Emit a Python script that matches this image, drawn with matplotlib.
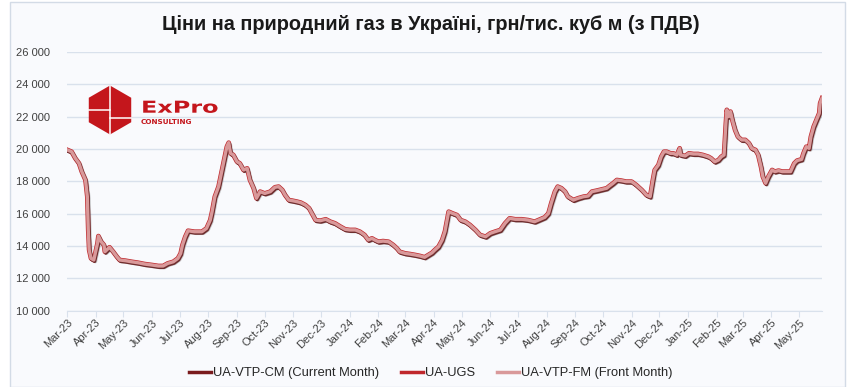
import numpy as np
import pandas as pd
import matplotlib
matplotlib.use('Agg')
import matplotlib.pyplot as plt
import matplotlib.dates as mdates
import matplotlib.patheffects as pe
from matplotlib.patches import RegularPolygon, Rectangle, PathPatch
from matplotlib.textpath import TextPath
from matplotlib.font_manager import FontProperties
from matplotlib.transforms import IdentityTransform, Affine2D
from matplotlib.ticker import FuncFormatter

plt.rcParams['font.family'] = ['Liberation Sans', 'DejaVu Sans']

title = 'Ціни на природний газ в Україні, грн/тис. куб м (з ПДВ)'
names = ['UA-VTP-CM (Current Month)', 'UA-UGS', 'UA-VTP-FM (Front Month)']
colors = ['#7a1b1d', '#c0282d', '#d9999a']

# values (the three traces overlap almost exactly)
dates = ['2023-03-01', '2023-03-06', '2023-03-10', '2023-03-14', '2023-03-17', '2023-03-21',
         '2023-03-23', '2023-03-24', '2023-03-25', '2023-03-27', '2023-03-30', '2023-04-01',
         '2023-04-03', '2023-04-04', '2023-04-07', '2023-04-10', '2023-04-11', '2023-04-13',
         '2023-04-16', '2023-04-20', '2023-04-24', '2023-04-27', '2023-05-03', '2023-05-10',
         '2023-05-17', '2023-05-24', '2023-06-01', '2023-06-08', '2023-06-13', '2023-06-18',
         '2023-06-24', '2023-06-29', '2023-07-02', '2023-07-04', '2023-07-07', '2023-07-10',
         '2023-07-17', '2023-07-25', '2023-07-30', '2023-08-03', '2023-08-05', '2023-08-08',
         '2023-08-12', '2023-08-15', '2023-08-18', '2023-08-21', '2023-08-23', '2023-08-25',
         '2023-08-28', '2023-09-01', '2023-09-04', '2023-09-08', '2023-09-12', '2023-09-15',
         '2023-09-19', '2023-09-22', '2023-09-26', '2023-10-01', '2023-10-07', '2023-10-12',
         '2023-10-16', '2023-10-20', '2023-10-23', '2023-10-27', '2023-10-31', '2023-11-05',
         '2023-11-09', '2023-11-14', '2023-11-18', '2023-11-21', '2023-11-25', '2023-11-30',
         '2023-12-06', '2023-12-11', '2023-12-16', '2023-12-22', '2023-12-27', '2024-01-01',
         '2024-01-07', '2024-01-12', '2024-01-17', '2024-01-21', '2024-01-25', '2024-01-28',
         '2024-02-01', '2024-02-06', '2024-02-12', '2024-02-17', '2024-02-21', '2024-02-24',
         '2024-03-01', '2024-03-06', '2024-03-12', '2024-03-17', '2024-03-22', '2024-03-26',
         '2024-03-30', '2024-04-02', '2024-04-06', '2024-04-10', '2024-04-13', '2024-04-17',
         '2024-04-21', '2024-04-26', '2024-04-30', '2024-05-05', '2024-05-10', '2024-05-16',
         '2024-05-21', '2024-05-27', '2024-06-01', '2024-06-06', '2024-06-12', '2024-06-17',
         '2024-06-22', '2024-06-28', '2024-07-05', '2024-07-12', '2024-07-19', '2024-07-25',
         '2024-07-30', '2024-08-03', '2024-08-06', '2024-08-10', '2024-08-13', '2024-08-17',
         '2024-08-21', '2024-08-24', '2024-08-30', '2024-09-04', '2024-09-10', '2024-09-15',
         '2024-09-19', '2024-09-24', '2024-09-30', '2024-10-05', '2024-10-08', '2024-10-12',
         '2024-10-16', '2024-10-21', '2024-10-26', '2024-11-01', '2024-11-06', '2024-11-12',
         '2024-11-17', '2024-11-21', '2024-11-24', '2024-11-26', '2024-11-30', '2024-12-03',
         '2024-12-06', '2024-12-09', '2024-12-13', '2024-12-16', '2024-12-20', '2024-12-23',
         '2024-12-24', '2024-12-29', '2025-01-02', '2025-01-07', '2025-01-12', '2025-01-17',
         '2025-01-23', '2025-01-26', '2025-01-30', '2025-02-03', '2025-02-06', '2025-02-09',
         '2025-02-11', '2025-02-12', '2025-02-14', '2025-02-16', '2025-02-18', '2025-02-21',
         '2025-02-24', '2025-02-28', '2025-03-04', '2025-03-08', '2025-03-11', '2025-03-15',
         '2025-03-18', '2025-03-21', '2025-03-23', '2025-03-26', '2025-03-29', '2025-04-02',
         '2025-04-05', '2025-04-09', '2025-04-13', '2025-04-18', '2025-04-22', '2025-04-26',
         '2025-04-29', '2025-05-04', '2025-05-06', '2025-05-09', '2025-05-12', '2025-05-14',
         '2025-05-17', '2025-05-20', '2025-05-23', '2025-05-24', '2025-05-26']

cm_values = [19950, 19830, 19420, 19110, 18600, 18080,
             17050, 15000, 13750, 13230, 13130, 13640,
             14160, 14610, 14260, 14060, 13640, 13750,
             13920, 13640, 13330, 13130, 13090, 13020,
             12960, 12880, 12820, 12760, 12760, 12920,
             13020, 13230, 13540, 14060, 14570, 14940,
             14880, 14880, 15090, 15600, 16120, 17050,
             17670, 18500, 19320, 20140, 20390, 19730,
             19630, 19210, 19110, 18700, 18800, 18080,
             17570, 16950, 17360, 17250, 17360, 17630,
             17670, 17460, 17150, 16840, 16800, 16740,
             16680, 16530, 16330, 16020, 15600, 15560,
             15650, 15500, 15400, 15190, 15030, 14990,
             14990, 14880, 14680, 14370, 14470, 14370,
             14260, 14300, 14260, 14060, 13850, 13640,
             13540, 13500, 13440, 13380, 13300, 13440,
             13580, 13750, 13950, 14370, 14900, 16120,
             16020, 15910, 15600, 15500, 15300, 14990,
             14680, 14570, 14780, 14880, 14990, 15400,
             15710, 15650, 15650, 15600, 15500, 15650,
             15770, 16020, 16640, 17360, 17670, 17570,
             17360, 17050, 16840, 16950, 17050, 17090,
             17360, 17420, 17500, 17570, 17710, 17880,
             18080, 18040, 17980, 17980, 17770, 17460,
             17150, 17050, 18080, 18700, 19010, 19520,
             19830, 19830, 19730, 19730, 19630, 20040,
             19630, 19570, 19730, 19690, 19690, 19630,
             19520, 19420, 19210, 19320, 19520, 19630,
             21600, 22420, 22000, 22310, 21790, 21170,
             20760, 20560, 20560, 20350, 20040, 19940,
             19630, 18900, 18290, 17880, 18290, 18700,
             18600, 18660, 18600, 18600, 18600, 19110,
             19280, 19360, 19730, 20140, 20040, 20760,
             21380, 21790, 22210, 22830, 23140]
ugs_values = list(cm_values)
fm_values = list(cm_values)

yticks = [10000, 12000, 14000, 16000, 18000, 20000, 22000, 24000, 26000]

x = pd.to_datetime(dates)
H = 387

fig = plt.figure(figsize=(8.62, 3.87), dpi=100)
fig.patch.set_facecolor('white')
fig.patches.append(Rectangle((10/862, 0), 835/862, 1 - 2/H, transform=fig.transFigure,
                             facecolor='#f9fafd', edgecolor='#d3dbe6', lw=1, zorder=-10))

ax = fig.add_axes([67/862, 1 - 310.6/H, (822 - 67)/862, (310.6 - 52)/H])
ax.set_facecolor('none')

ax.plot(x, ugs_values, color=colors[1], lw=3.4, solid_joinstyle='round', zorder=3)
ax.plot(x, cm_values, color=colors[0], lw=2.6, solid_joinstyle='round', zorder=3,
        path_effects=[pe.Stroke(offset=(0.6, -1.0), linewidth=2.4, foreground=colors[0])])
ax.plot(x, fm_values, color=colors[2], lw=2.4, solid_joinstyle='round', zorder=4,
        path_effects=[pe.SimpleLineShadow(offset=(1.2, -1.2), shadow_color='#555555', alpha=0.3),
                      pe.Normal()])

ax.set_ylim(10000, 26000)
ax.set_yticks(yticks)
ax.yaxis.set_major_formatter(FuncFormatter(lambda v, p: f'{int(v):,}'.replace(',', ' ')))
ax.set_xlim(pd.Timestamp('2023-03-01'), pd.Timestamp('2025-05-26'))
ax.xaxis.set_major_locator(mdates.MonthLocator())
ax.xaxis.set_major_formatter(mdates.DateFormatter('%b-%y'))

ax.grid(axis='y', color='#d9e1ec', lw=1)
ax.set_axisbelow(True)
for s in ['top', 'right', 'left']:
    ax.spines[s].set_visible(False)
ax.spines['bottom'].set_color('#d9e1ec')
ax.tick_params(axis='y', length=0, labelsize=8, labelcolor='#404040', pad=12)
ax.tick_params(axis='x', length=4, color='#d9e1ec', labelsize=8, labelcolor='#404040', pad=1)
for lab in ax.get_xticklabels():
    lab.set_rotation(45)
    lab.set_ha('right')
    lab.set_rotation_mode('anchor')

fig.text(0.5, 1 - 25/H, title, ha='center', va='center', fontsize=14.3, fontweight='bold', color='#1a1a1a')

# legend
handles = [plt.Line2D([], [], color=c, lw=2.5) for c in colors]
fig.legend(handles, names, loc='center', bbox_to_anchor=(0.5, 1 - 373/H), ncol=3, frameon=False,
           fontsize=9.3, handlelength=1.7, handletextpad=0.15, columnspacing=1.7,
           labelcolor='#262626')

# logo, drawn in pixel coordinates
red = '#c4161c'
px = IdentityTransform()
cx, cy = 110, H - 110
fig.patches.append(RegularPolygon((cx, cy), 6, radius=24.5, transform=px,
                                  facecolor=red, edgecolor='none', zorder=5))
for xs, ys in [([cx, cx], [cy + 24, cy - 24]),
               ([cx - 21, cx], [cy, cy]),
               ([cx, cx + 21], [cy - 8, cy - 8])]:
    fig.add_artist(plt.Line2D(xs, ys, transform=px, color='white', lw=1.1, zorder=6))
logo_font = FontProperties(family='DejaVu Sans', weight='bold')
tp = TextPath((0, 0), 'ExPro', size=16.5, prop=logo_font)
fig.patches.append(PathPatch(tp, transform=Affine2D().scale(1.45, 1.0).translate(141, H - 112.7),
                             facecolor=red, edgecolor='none', zorder=6))
fig.text(141/862, 1 - 122/H, 'CONSULTING', ha='left', va='center', fontsize=5.2, fontweight='bold',
         color=red, family='DejaVu Sans')

fig.savefig('out.png', dpi=100, facecolor=fig.get_facecolor())
